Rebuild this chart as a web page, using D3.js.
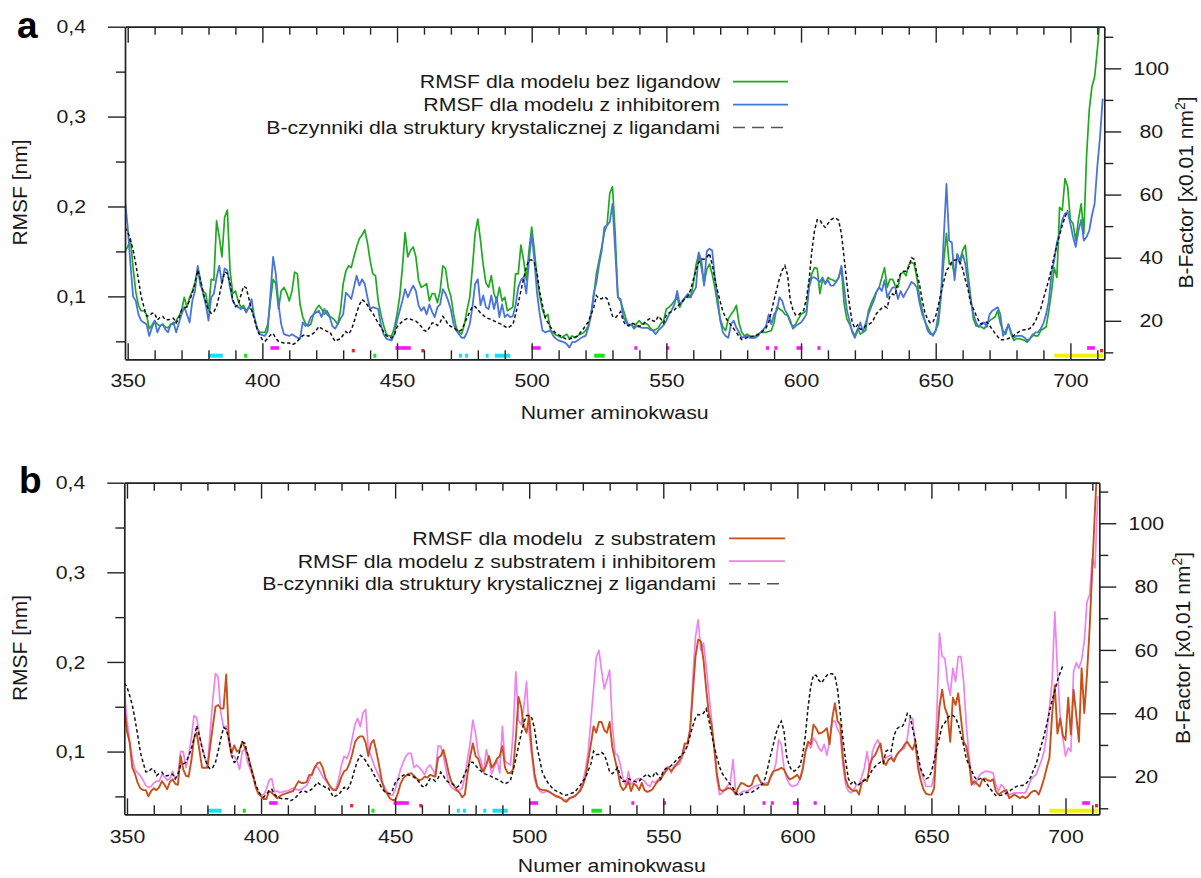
<!DOCTYPE html>
<html><head><meta charset="utf-8">
<script src="https://cdn.jsdelivr.net/npm/d3@7"></script>
<style>body{margin:0;background:#fff}svg{display:block}text{white-space:pre}</style>
</head><body>
<svg id="c" width="1201" height="878"></svg>
<script>
// ---------------- DATA ----------------
const xDomain = [349, 712.6];
const yDomain = [0.03, 0.4];
const xMajorTicks = [350,400,450,500,550,600,650,700];
const xMinorTicks = [360,370,380,390,410,420,430,440,460,470,480,490,510,520,530,540,560,570,580,590,610,620,630,640,660,670,680,690,710];
const yTicks = [0.1,0.2,0.3,0.4];
const yMinorTicks = [0.05,0.15,0.25,0.35];
const bTicks = [20,40,60,80,100];
const bMinorTicks = [10,30,50,70,90,110];

const legendTop = ["RMSF dla modelu bez ligandow","RMSF dla modelu z inhibitorem","B-czynniki dla struktury krystalicznej z ligandami"];
const legendBottom = ["RMSF dla modelu  z substratem","RMSF dla modelu z substratem i inhibitorem","B-czynniki dla struktury krystalicznej z ligandami"];

// RMSF [nm], model without ligands
const rmsfNoLigand = [[349,0.150],[350,0.155],[351,0.164],[352,0.132],[353,0.105],[354,0.090],[355,0.084],[356,0.084],[357,0.080],[358,0.064],[359,0.068],[360,0.073],[361,0.069],[362,0.067],[363,0.069],[364,0.066],[365,0.065],[366,0.069],[367,0.069],[368,0.073],[369,0.078],[370,0.084],[371,0.099],[372,0.088],[373,0.099],[374,0.106],[375,0.115],[376,0.132],[377,0.112],[378,0.106],[379,0.103],[380,0.084],[381,0.119],[382,0.118],[383,0.184],[384,0.166],[385,0.144],[386,0.188],[387,0.196],[388,0.129],[389,0.103],[390,0.106],[391,0.095],[392,0.088],[393,0.090],[394,0.084],[395,0.088],[396,0.085],[397,0.077],[398,0.065],[399,0.060],[400,0.060],[401,0.060],[402,0.069],[403,0.095],[404,0.119],[405,0.114],[406,0.086],[407,0.106],[408,0.110],[409,0.104],[410,0.095],[411,0.106],[412,0.127],[413,0.125],[414,0.091],[415,0.077],[416,0.070],[417,0.067],[418,0.069],[419,0.080],[420,0.086],[421,0.090],[422,0.086],[423,0.080],[424,0.084],[425,0.078],[426,0.076],[427,0.073],[428,0.069],[429,0.084],[430,0.114],[431,0.128],[432,0.134],[433,0.132],[434,0.144],[435,0.155],[436,0.164],[437,0.168],[438,0.174],[439,0.160],[440,0.140],[441,0.125],[442,0.123],[443,0.095],[444,0.080],[445,0.068],[446,0.058],[447,0.056],[448,0.056],[449,0.065],[450,0.080],[451,0.100],[452,0.132],[453,0.171],[454,0.144],[455,0.151],[456,0.155],[457,0.144],[458,0.118],[459,0.110],[460,0.112],[461,0.114],[462,0.095],[463,0.103],[464,0.103],[465,0.093],[466,0.106],[467,0.134],[468,0.131],[469,0.110],[470,0.100],[471,0.080],[472,0.065],[473,0.060],[474,0.058],[475,0.069],[476,0.085],[477,0.099],[478,0.132],[479,0.170],[480,0.186],[481,0.162],[482,0.135],[483,0.115],[484,0.110],[485,0.123],[486,0.103],[487,0.095],[488,0.110],[489,0.095],[490,0.099],[491,0.084],[492,0.086],[493,0.088],[494,0.125],[495,0.125],[496,0.157],[497,0.140],[498,0.118],[499,0.151],[500,0.177],[501,0.151],[502,0.121],[503,0.100],[504,0.085],[505,0.077],[506,0.080],[507,0.062],[508,0.060],[509,0.057],[510,0.056],[511,0.054],[512,0.056],[513,0.058],[514,0.053],[515,0.056],[516,0.054],[517,0.056],[518,0.058],[519,0.059],[520,0.062],[521,0.067],[522,0.080],[523,0.099],[524,0.125],[525,0.140],[526,0.155],[527,0.171],[528,0.180],[529,0.215],[530,0.222],[531,0.170],[532,0.099],[533,0.095],[534,0.085],[535,0.075],[536,0.067],[537,0.069],[538,0.065],[539,0.070],[540,0.073],[541,0.069],[542,0.070],[543,0.069],[544,0.065],[545,0.062],[546,0.063],[547,0.065],[548,0.070],[549,0.073],[550,0.086],[551,0.088],[552,0.091],[553,0.095],[554,0.099],[555,0.088],[556,0.095],[557,0.099],[558,0.099],[559,0.099],[560,0.114],[561,0.135],[562,0.147],[563,0.132],[564,0.114],[565,0.130],[566,0.136],[567,0.125],[568,0.110],[569,0.091],[570,0.075],[571,0.066],[572,0.062],[573,0.075],[574,0.080],[575,0.084],[576,0.090],[577,0.070],[578,0.060],[579,0.056],[580,0.058],[581,0.056],[582,0.054],[583,0.056],[584,0.058],[585,0.060],[586,0.060],[587,0.060],[588,0.061],[589,0.062],[590,0.071],[591,0.088],[592,0.086],[593,0.084],[594,0.080],[595,0.079],[596,0.071],[597,0.066],[598,0.069],[599,0.075],[600,0.080],[601,0.082],[602,0.084],[603,0.114],[604,0.125],[605,0.132],[606,0.131],[607,0.103],[608,0.119],[609,0.114],[610,0.121],[611,0.119],[612,0.118],[613,0.116],[614,0.121],[615,0.131],[616,0.092],[617,0.075],[618,0.069],[619,0.062],[620,0.056],[621,0.064],[622,0.058],[623,0.060],[624,0.062],[625,0.084],[626,0.092],[627,0.099],[628,0.105],[629,0.110],[630,0.121],[631,0.132],[632,0.110],[633,0.119],[634,0.119],[635,0.112],[636,0.110],[637,0.125],[638,0.127],[639,0.123],[640,0.135],[641,0.138],[642,0.136],[643,0.121],[644,0.099],[645,0.085],[646,0.072],[647,0.066],[648,0.060],[649,0.056],[650,0.062],[651,0.070],[652,0.100],[653,0.140],[654,0.170],[655,0.136],[656,0.138],[657,0.123],[658,0.147],[659,0.140],[660,0.151],[661,0.157],[662,0.125],[663,0.099],[664,0.075],[665,0.067],[666,0.067],[667,0.066],[668,0.064],[669,0.069],[670,0.073],[671,0.075],[672,0.077],[673,0.084],[674,0.070],[675,0.062],[676,0.058],[677,0.069],[678,0.058],[679,0.051],[680,0.053],[681,0.053],[682,0.052],[683,0.051],[684,0.049],[685,0.053],[686,0.058],[687,0.056],[688,0.056],[689,0.062],[690,0.064],[691,0.066],[692,0.084],[693,0.105],[694,0.132],[695,0.121],[696,0.199],[697,0.196],[698,0.231],[699,0.222],[700,0.185],[701,0.181],[702,0.162],[703,0.185],[704,0.203],[705,0.170],[706,0.255],[707,0.307],[708,0.333],[709,0.344],[710,0.374],[711,0.410],[712,0.440]];

// RMSF [nm], model with inhibitor
const rmsfInhibitor = [[349,0.207],[350,0.177],[351,0.137],[352,0.100],[353,0.095],[354,0.080],[355,0.073],[356,0.071],[357,0.069],[358,0.056],[359,0.065],[360,0.073],[361,0.060],[362,0.067],[363,0.069],[364,0.063],[365,0.060],[366,0.069],[367,0.071],[368,0.060],[369,0.070],[370,0.080],[371,0.088],[372,0.080],[373,0.071],[374,0.095],[375,0.106],[376,0.134],[377,0.118],[378,0.103],[379,0.091],[380,0.073],[381,0.099],[382,0.103],[383,0.121],[384,0.134],[385,0.114],[386,0.131],[387,0.129],[388,0.110],[389,0.095],[390,0.090],[391,0.088],[392,0.086],[393,0.088],[394,0.082],[395,0.088],[396,0.097],[397,0.077],[398,0.065],[399,0.058],[400,0.057],[401,0.056],[402,0.062],[403,0.103],[404,0.144],[405,0.125],[406,0.091],[407,0.069],[408,0.058],[409,0.057],[410,0.056],[411,0.058],[412,0.056],[413,0.054],[414,0.053],[415,0.071],[416,0.067],[417,0.069],[418,0.077],[419,0.080],[420,0.082],[421,0.084],[422,0.077],[423,0.086],[424,0.080],[425,0.077],[426,0.067],[427,0.064],[428,0.069],[429,0.075],[430,0.080],[431,0.104],[432,0.101],[433,0.097],[434,0.110],[435,0.123],[436,0.112],[437,0.119],[438,0.114],[439,0.099],[440,0.086],[441,0.088],[442,0.087],[443,0.086],[444,0.069],[445,0.058],[446,0.053],[447,0.052],[448,0.051],[449,0.058],[450,0.073],[451,0.084],[452,0.095],[453,0.108],[454,0.099],[455,0.106],[456,0.112],[457,0.106],[458,0.090],[459,0.084],[460,0.088],[461,0.080],[462,0.091],[463,0.083],[464,0.077],[465,0.088],[466,0.091],[467,0.108],[468,0.103],[469,0.095],[470,0.085],[471,0.069],[472,0.062],[473,0.058],[474,0.054],[475,0.054],[476,0.060],[477,0.069],[478,0.088],[479,0.114],[480,0.119],[481,0.090],[482,0.101],[483,0.088],[484,0.086],[485,0.101],[486,0.086],[487,0.099],[488,0.077],[489,0.091],[490,0.077],[491,0.080],[492,0.077],[493,0.078],[494,0.090],[495,0.110],[496,0.118],[497,0.121],[498,0.103],[499,0.140],[500,0.170],[501,0.140],[502,0.103],[503,0.080],[504,0.062],[505,0.060],[506,0.061],[507,0.062],[508,0.056],[509,0.053],[510,0.051],[511,0.050],[512,0.049],[513,0.047],[514,0.043],[515,0.049],[516,0.049],[517,0.051],[518,0.053],[519,0.055],[520,0.056],[521,0.065],[522,0.078],[523,0.103],[524,0.115],[525,0.135],[526,0.151],[527,0.177],[528,0.179],[529,0.183],[530,0.203],[531,0.151],[532,0.099],[533,0.097],[534,0.077],[535,0.072],[536,0.067],[537,0.069],[538,0.064],[539,0.067],[540,0.066],[541,0.065],[542,0.065],[543,0.065],[544,0.063],[545,0.062],[546,0.058],[547,0.062],[548,0.065],[549,0.068],[550,0.073],[551,0.080],[552,0.085],[553,0.091],[554,0.106],[555,0.091],[556,0.095],[557,0.099],[558,0.103],[559,0.099],[560,0.105],[561,0.110],[562,0.149],[563,0.140],[564,0.112],[565,0.150],[566,0.153],[567,0.151],[568,0.121],[569,0.099],[570,0.073],[571,0.060],[572,0.056],[573,0.054],[574,0.069],[575,0.073],[576,0.065],[577,0.060],[578,0.054],[579,0.055],[580,0.056],[581,0.054],[582,0.054],[583,0.054],[584,0.056],[585,0.060],[586,0.063],[587,0.067],[588,0.080],[589,0.069],[590,0.080],[591,0.084],[592,0.099],[593,0.095],[594,0.085],[595,0.080],[596,0.073],[597,0.064],[598,0.067],[599,0.069],[600,0.071],[601,0.075],[602,0.080],[603,0.110],[604,0.121],[605,0.121],[606,0.119],[607,0.116],[608,0.121],[609,0.114],[610,0.118],[611,0.112],[612,0.112],[613,0.116],[614,0.121],[615,0.134],[616,0.110],[617,0.085],[618,0.073],[619,0.060],[620,0.054],[621,0.062],[622,0.071],[623,0.060],[624,0.070],[625,0.080],[626,0.088],[627,0.095],[628,0.105],[629,0.110],[630,0.106],[631,0.118],[632,0.099],[633,0.105],[634,0.110],[635,0.110],[636,0.097],[637,0.106],[638,0.099],[639,0.105],[640,0.110],[641,0.116],[642,0.114],[643,0.110],[644,0.093],[645,0.080],[646,0.073],[647,0.062],[648,0.058],[649,0.058],[650,0.062],[651,0.080],[652,0.103],[653,0.166],[654,0.225],[655,0.162],[656,0.160],[657,0.118],[658,0.147],[659,0.136],[660,0.147],[661,0.136],[662,0.115],[663,0.095],[664,0.080],[665,0.071],[666,0.066],[667,0.070],[668,0.071],[669,0.066],[670,0.080],[671,0.084],[672,0.086],[673,0.088],[674,0.080],[675,0.056],[676,0.062],[677,0.069],[678,0.060],[679,0.054],[680,0.056],[681,0.056],[682,0.056],[683,0.054],[684,0.051],[685,0.053],[686,0.056],[687,0.060],[688,0.060],[689,0.064],[690,0.070],[691,0.080],[692,0.095],[693,0.125],[694,0.140],[695,0.160],[696,0.170],[697,0.185],[698,0.192],[699,0.194],[700,0.181],[701,0.166],[702,0.155],[703,0.173],[704,0.185],[705,0.162],[706,0.166],[707,0.173],[708,0.190],[709,0.203],[710,0.244],[711,0.277],[712,0.320]];

// RMSF [nm], model with substrate
const rmsfSubstrate = [[349,0.150],[350,0.123],[351,0.110],[352,0.082],[353,0.075],[354,0.065],[355,0.059],[356,0.057],[357,0.057],[358,0.050],[359,0.056],[360,0.059],[361,0.057],[362,0.060],[363,0.067],[364,0.063],[365,0.058],[366,0.066],[367,0.069],[368,0.064],[369,0.063],[370,0.095],[371,0.080],[372,0.073],[373,0.072],[374,0.090],[375,0.115],[376,0.121],[377,0.102],[378,0.082],[379,0.082],[380,0.082],[381,0.105],[382,0.128],[383,0.150],[384,0.152],[385,0.148],[386,0.148],[387,0.186],[388,0.115],[389,0.098],[390,0.107],[391,0.100],[392,0.102],[393,0.111],[394,0.104],[395,0.097],[396,0.085],[397,0.074],[398,0.060],[399,0.053],[400,0.050],[401,0.047],[402,0.047],[403,0.056],[404,0.054],[405,0.051],[406,0.048],[407,0.050],[408,0.052],[409,0.053],[410,0.054],[411,0.055],[412,0.056],[413,0.062],[414,0.067],[415,0.065],[416,0.065],[417,0.066],[418,0.074],[419,0.074],[420,0.082],[421,0.087],[422,0.088],[423,0.082],[424,0.071],[425,0.065],[426,0.060],[427,0.057],[428,0.057],[429,0.063],[430,0.072],[431,0.078],[432,0.080],[433,0.087],[434,0.097],[435,0.110],[436,0.115],[437,0.117],[438,0.117],[439,0.110],[440,0.095],[441,0.109],[442,0.113],[443,0.100],[444,0.085],[445,0.068],[446,0.057],[447,0.053],[448,0.048],[449,0.046],[450,0.046],[451,0.053],[452,0.064],[453,0.070],[454,0.073],[455,0.075],[456,0.076],[457,0.073],[458,0.070],[459,0.068],[460,0.069],[461,0.072],[462,0.071],[463,0.074],[464,0.073],[465,0.072],[466,0.093],[467,0.095],[468,0.102],[469,0.090],[470,0.076],[471,0.066],[472,0.062],[473,0.057],[474,0.054],[475,0.049],[476,0.052],[477,0.075],[478,0.095],[479,0.109],[480,0.095],[481,0.092],[482,0.082],[483,0.078],[484,0.085],[485,0.095],[486,0.082],[487,0.086],[488,0.092],[489,0.095],[490,0.106],[491,0.082],[492,0.076],[493,0.076],[494,0.080],[495,0.115],[496,0.161],[497,0.150],[498,0.128],[499,0.121],[500,0.140],[501,0.100],[502,0.075],[503,0.061],[504,0.058],[505,0.057],[506,0.057],[507,0.056],[508,0.054],[509,0.052],[510,0.050],[511,0.049],[512,0.048],[513,0.045],[514,0.044],[515,0.048],[516,0.049],[517,0.050],[518,0.053],[519,0.056],[520,0.062],[521,0.072],[522,0.090],[523,0.108],[524,0.128],[525,0.121],[526,0.133],[527,0.133],[528,0.124],[529,0.121],[530,0.133],[531,0.105],[532,0.091],[533,0.078],[534,0.062],[535,0.057],[536,0.060],[537,0.067],[538,0.056],[539,0.064],[540,0.062],[541,0.057],[542,0.065],[543,0.057],[544,0.055],[545,0.056],[546,0.058],[547,0.063],[548,0.067],[549,0.069],[550,0.074],[551,0.078],[552,0.082],[553,0.078],[554,0.082],[555,0.086],[556,0.090],[557,0.096],[558,0.109],[559,0.109],[560,0.125],[561,0.165],[562,0.206],[563,0.225],[564,0.223],[565,0.202],[566,0.170],[567,0.142],[568,0.130],[569,0.105],[570,0.075],[571,0.058],[572,0.056],[573,0.057],[574,0.059],[575,0.059],[576,0.057],[577,0.052],[578,0.060],[579,0.065],[580,0.064],[581,0.062],[582,0.061],[583,0.063],[584,0.072],[585,0.074],[586,0.068],[587,0.063],[588,0.063],[589,0.063],[590,0.072],[591,0.078],[592,0.079],[593,0.080],[594,0.082],[595,0.080],[596,0.074],[597,0.069],[598,0.070],[599,0.072],[600,0.074],[601,0.069],[602,0.080],[603,0.100],[604,0.111],[605,0.108],[606,0.130],[607,0.126],[608,0.120],[609,0.121],[610,0.123],[611,0.126],[612,0.108],[613,0.137],[614,0.154],[615,0.134],[616,0.130],[617,0.093],[618,0.069],[619,0.061],[620,0.058],[621,0.056],[622,0.057],[623,0.052],[624,0.065],[625,0.069],[626,0.067],[627,0.085],[628,0.093],[629,0.096],[630,0.103],[631,0.109],[632,0.089],[633,0.085],[634,0.091],[635,0.093],[636,0.089],[637,0.096],[638,0.100],[639,0.103],[640,0.108],[641,0.111],[642,0.106],[643,0.102],[644,0.111],[645,0.082],[646,0.068],[647,0.058],[648,0.053],[649,0.052],[650,0.052],[651,0.059],[652,0.111],[653,0.150],[654,0.169],[655,0.149],[656,0.141],[657,0.111],[658,0.160],[659,0.152],[660,0.165],[661,0.137],[662,0.111],[663,0.106],[664,0.089],[665,0.063],[666,0.067],[667,0.064],[668,0.061],[669,0.069],[670,0.070],[671,0.068],[672,0.067],[673,0.069],[674,0.056],[675,0.052],[676,0.054],[677,0.056],[678,0.057],[679,0.048],[680,0.050],[681,0.052],[682,0.050],[683,0.048],[684,0.050],[685,0.048],[686,0.050],[687,0.054],[688,0.056],[689,0.056],[690,0.052],[691,0.060],[692,0.070],[693,0.082],[694,0.093],[695,0.141],[696,0.174],[697,0.120],[698,0.137],[699,0.118],[700,0.113],[701,0.160],[702,0.119],[703,0.169],[704,0.141],[705,0.111],[706,0.193],[707,0.143],[708,0.186],[709,0.238],[710,0.305],[711,0.371],[712,0.430]];

// RMSF [nm], model with substrate and inhibitor
const rmsfSubstrateInhibitor = [[349,0.169],[350,0.135],[351,0.112],[352,0.092],[353,0.080],[354,0.076],[355,0.073],[356,0.068],[357,0.062],[358,0.060],[359,0.061],[360,0.065],[361,0.067],[362,0.067],[363,0.074],[364,0.072],[365,0.068],[366,0.070],[367,0.078],[368,0.069],[369,0.074],[370,0.100],[371,0.100],[372,0.082],[373,0.095],[374,0.115],[375,0.140],[376,0.138],[377,0.118],[378,0.106],[379,0.094],[380,0.083],[381,0.121],[382,0.158],[383,0.187],[384,0.183],[385,0.143],[386,0.128],[387,0.128],[388,0.110],[389,0.095],[390,0.095],[391,0.090],[392,0.080],[393,0.100],[394,0.103],[395,0.088],[396,0.080],[397,0.071],[398,0.062],[399,0.054],[400,0.051],[401,0.052],[402,0.058],[403,0.068],[404,0.070],[405,0.055],[406,0.056],[407,0.054],[408,0.055],[409,0.056],[410,0.056],[411,0.058],[412,0.059],[413,0.058],[414,0.057],[415,0.058],[416,0.060],[417,0.062],[418,0.068],[419,0.076],[420,0.083],[421,0.083],[422,0.078],[423,0.072],[424,0.068],[425,0.064],[426,0.060],[427,0.057],[428,0.059],[429,0.070],[430,0.085],[431,0.095],[432,0.092],[433,0.100],[434,0.115],[435,0.130],[436,0.137],[437,0.128],[438,0.143],[439,0.147],[440,0.102],[441,0.095],[442,0.086],[443,0.079],[444,0.072],[445,0.066],[446,0.061],[447,0.055],[448,0.052],[449,0.051],[450,0.057],[451,0.069],[452,0.080],[453,0.088],[454,0.095],[455,0.098],[456,0.098],[457,0.082],[458,0.085],[459,0.082],[460,0.079],[461,0.074],[462,0.082],[463,0.085],[464,0.080],[465,0.074],[466,0.106],[467,0.106],[468,0.095],[469,0.080],[470,0.065],[471,0.060],[472,0.058],[473,0.056],[474,0.057],[475,0.059],[476,0.072],[477,0.092],[478,0.110],[479,0.135],[480,0.120],[481,0.097],[482,0.090],[483,0.076],[484,0.102],[485,0.090],[486,0.075],[487,0.083],[488,0.090],[489,0.076],[490,0.128],[491,0.089],[492,0.087],[493,0.085],[494,0.120],[495,0.189],[496,0.135],[497,0.130],[498,0.150],[499,0.178],[500,0.120],[501,0.095],[502,0.069],[503,0.060],[504,0.056],[505,0.054],[506,0.055],[507,0.056],[508,0.054],[509,0.052],[510,0.051],[511,0.050],[512,0.048],[513,0.046],[514,0.046],[515,0.047],[516,0.049],[517,0.051],[518,0.053],[519,0.058],[520,0.066],[521,0.080],[522,0.100],[523,0.135],[524,0.170],[525,0.205],[526,0.213],[527,0.190],[528,0.170],[529,0.180],[530,0.191],[531,0.130],[532,0.098],[533,0.096],[534,0.085],[535,0.070],[536,0.062],[537,0.078],[538,0.063],[539,0.066],[540,0.069],[541,0.070],[542,0.069],[543,0.067],[544,0.063],[545,0.061],[546,0.067],[547,0.065],[548,0.069],[549,0.070],[550,0.076],[551,0.082],[552,0.083],[553,0.076],[554,0.085],[555,0.085],[556,0.086],[557,0.093],[558,0.104],[559,0.106],[560,0.120],[561,0.180],[562,0.228],[563,0.247],[564,0.213],[565,0.221],[566,0.195],[567,0.165],[568,0.135],[569,0.102],[570,0.069],[571,0.052],[572,0.054],[573,0.058],[574,0.062],[575,0.065],[576,0.091],[577,0.054],[578,0.052],[579,0.054],[580,0.056],[581,0.056],[582,0.057],[583,0.059],[584,0.061],[585,0.062],[586,0.063],[587,0.064],[588,0.065],[589,0.065],[590,0.070],[591,0.076],[592,0.087],[593,0.113],[594,0.108],[595,0.082],[596,0.070],[597,0.064],[598,0.061],[599,0.062],[600,0.063],[601,0.070],[602,0.082],[603,0.100],[604,0.108],[605,0.104],[606,0.115],[607,0.111],[608,0.104],[609,0.100],[610,0.108],[611,0.096],[612,0.111],[613,0.134],[614,0.134],[615,0.125],[616,0.119],[617,0.085],[618,0.063],[619,0.056],[620,0.054],[621,0.057],[622,0.063],[623,0.063],[624,0.072],[625,0.082],[626,0.100],[627,0.078],[628,0.100],[629,0.108],[630,0.113],[631,0.106],[632,0.089],[633,0.093],[634,0.095],[635,0.096],[636,0.089],[637,0.096],[638,0.100],[639,0.102],[640,0.104],[641,0.115],[642,0.137],[643,0.137],[644,0.104],[645,0.090],[646,0.078],[647,0.070],[648,0.061],[649,0.061],[650,0.061],[651,0.074],[652,0.141],[653,0.232],[654,0.206],[655,0.204],[656,0.178],[657,0.163],[658,0.193],[659,0.178],[660,0.206],[661,0.206],[662,0.178],[663,0.130],[664,0.096],[665,0.070],[666,0.063],[667,0.068],[668,0.074],[669,0.076],[670,0.078],[671,0.078],[672,0.077],[673,0.076],[674,0.063],[675,0.056],[676,0.063],[677,0.060],[678,0.052],[679,0.052],[680,0.053],[681,0.054],[682,0.054],[683,0.054],[684,0.054],[685,0.054],[686,0.060],[687,0.068],[688,0.072],[689,0.074],[690,0.082],[691,0.090],[692,0.100],[693,0.120],[694,0.149],[695,0.178],[696,0.256],[697,0.190],[698,0.140],[699,0.115],[700,0.095],[701,0.104],[702,0.100],[703,0.189],[704,0.199],[705,0.193],[706,0.202],[707,0.223],[708,0.267],[709,0.275],[710,0.316],[711,0.305],[712,0.385]];

// B-factor [x0.01 nm^2], crystal structure with ligands (same in both panels)
const bFactor = [[349,49.5],[350,48.3],[351,45.6],[352,42.5],[353,38],[354,33],[355,27.7],[356,24.5],[357,21.5],[358,21.5],[359,22.4],[360,22.4],[361,20.3],[362,21],[363,21.4],[364,20.3],[365,20.3],[366,20.5],[367,20.8],[368,19.3],[369,20.8],[370,23.5],[371,24],[372,24.5],[373,26.5],[374,28.8],[375,31.9],[376,36.1],[377,33],[378,29],[379,26],[380,23.5],[381,22.4],[382,22.9],[383,24.5],[384,28],[385,32],[386,35.5],[387,35],[388,31.9],[389,26.7],[390,24.5],[391,25],[392,28],[393,30.9],[394,30.5],[395,27],[396,23.5],[397,20.5],[398,17.5],[399,15.5],[400,14],[401,13.5],[402,14.5],[403,15.5],[404,16],[405,14.5],[406,13.5],[407,13.2],[408,13],[409,13],[410,13],[411,12.4],[412,12.8],[413,13.5],[414,14.5],[415,15.3],[416,15.6],[417,15.1],[418,15.5],[419,16.1],[420,17],[421,18.2],[422,17.5],[423,17.2],[424,16.6],[425,16.6],[426,15],[427,13.5],[428,14],[429,14.3],[430,15.5],[431,16.6],[432,15.8],[433,17],[434,19.5],[435,22.5],[436,25],[437,26.7],[438,26.1],[439,25],[440,23.5],[441,22.5],[442,20.8],[443,19.3],[444,18],[445,16.5],[446,15.3],[447,14.8],[448,14.6],[449,15.6],[450,18],[451,19],[452,19.8],[453,20.4],[454,20.8],[455,20.5],[456,20.2],[457,19.9],[458,19.2],[459,18.2],[460,17],[461,16.6],[462,17.8],[463,19.3],[464,19.3],[465,18.5],[466,19.5],[467,21.4],[468,20.3],[469,18.8],[470,18.2],[471,17.9],[472,17.2],[473,16.6],[474,17.2],[475,19],[476,21],[477,22.8],[478,24.5],[479,24.5],[480,23.5],[481,22.5],[482,21.8],[483,21],[484,20.7],[485,20.4],[486,20],[487,19.5],[488,19.2],[489,18.8],[490,18.2],[491,17.7],[492,18.2],[493,18.8],[494,22],[495,25.5],[496,29.5],[497,33.5],[498,37],[499,39.3],[500,39.3],[501,38.5],[502,35],[503,29],[504,25],[505,21],[506,19.5],[507,18],[508,17],[509,16],[510,15.5],[511,15.2],[512,14.6],[513,14.1],[514,14.2],[515,14.5],[516,14.8],[517,15.1],[518,16.2],[519,17.2],[520,18.5],[521,19.6],[522,21.9],[523,24],[524,28],[525,27],[526,27],[527,27.6],[528,27],[529,24.5],[530,21.5],[531,20.9],[532,21.8],[533,22.9],[534,20],[535,18.5],[536,18.6],[537,19.3],[538,19],[539,18.6],[540,18.3],[541,18.6],[542,19.5],[543,20.2],[544,20.8],[545,20],[546,19.8],[547,21.5],[548,20.5],[549,19.3],[550,21.8],[551,22.5],[552,22.9],[553,23.5],[554,24.4],[555,25.3],[556,26.1],[557,27],[558,27.8],[559,29.8],[560,33],[561,36],[562,38.5],[563,39.6],[564,39.5],[565,40],[566,41.4],[567,37.8],[568,33.5],[569,29.5],[570,26],[571,23],[572,21],[573,19.7],[574,18.6],[575,17.5],[576,16.4],[577,15],[578,14],[579,14.3],[580,14.7],[581,15],[582,15.1],[583,15.1],[584,15.6],[585,16.1],[586,16.9],[587,17.7],[588,19.5],[589,23],[590,26.7],[591,30],[592,33.5],[593,36],[594,37.5],[595,34.5],[596,26.5],[597,23.5],[598,21.8],[599,21.8],[600,22.6],[601,23.4],[602,27],[603,33],[604,42],[605,48.5],[606,52],[607,52],[608,50.4],[609,49.6],[610,50.8],[611,52],[612,52.5],[613,52.5],[614,51.8],[615,47.5],[616,40],[617,32],[618,25],[619,19.5],[620,17.7],[621,18.7],[622,17.3],[623,17.5],[624,18.4],[625,18.8],[626,19.3],[627,20.5],[628,22.3],[629,23.2],[630,24],[631,24.6],[632,24.1],[633,28],[634,28.5],[635,28],[636,32.8],[637,35],[638,35.7],[639,35.7],[640,37],[641,40],[642,39.5],[643,35],[644,31.5],[645,26.5],[646,22.5],[647,20.5],[648,19.3],[649,19.7],[650,21.5],[651,25],[652,29],[653,32.5],[654,36],[655,37],[656,38.5],[657,39.3],[658,39.3],[659,38.6],[660,36.5],[661,33],[662,30],[663,25.6],[664,23.8],[665,21.8],[666,20],[667,18.9],[668,19.3],[669,19.6],[670,18.5],[671,17.3],[672,16.1],[673,15],[674,14],[675,14],[676,14.1],[677,14.4],[678,14.8],[679,15.3],[680,16],[681,16.6],[682,17],[683,17.2],[684,17.2],[685,17.6],[686,18.5],[687,19.8],[688,22],[689,23.8],[690,27],[691,30],[692,33],[693,36.5],[694,40.5],[695,44],[696,47.2],[697,50.3],[698,52.8],[699,55]];

// structural annotation marks: [type, first residue, last residue]
const markers = [["cyan",380,385.3],["green",393.2,394.3],["magenta",403,406.2],["red",433.2,434.2],["green",441.2,442.3],["magenta",449.4,455.1],["red",459,460],["cyan",473,474],["cyan",475.3,476.3],["cyan",482.9,483.9],["cyan",486.3,492],["magenta",499.9,503.3],["green",523.2,527.1],["magenta",538.1,539.1],["magenta",549.9,550.9],["magenta",587,588],["magenta",590.1,591.1],["magenta",598.3,600.5],["magenta",606.1,607.1],["yellow",694,712.2],["magenta",706.2,709.1],["red",711,712]];

// ---------------- STYLE / LAYOUT ----------------
const FONT = "'Liberation Sans', Arial, Helvetica, sans-serif";
const SX = 1.12;           // horizontal stretch of the reference's lettering
const AX = "#222";
const TXT = "#1a1a1a";
const markerColor = {cyan:"#10e4f4", green:"#16e616", magenta:"#ff14ff", red:"#ff2020", yellow:"#f2f200"};
const markerLevel = {cyan:0.034, green:0.034, yellow:0.034, magenta:0.0426, red:0.0396};
const markerH = {cyan:4, green:4, yellow:4, magenta:3.6, red:3.4};

const svg = d3.select("#c");
svg.append("rect").attr("width",1201).attr("height",878).attr("fill","#fff");

function stretch(sel){
  sel.each(function(){
    const t = d3.select(this);
    const x = +t.attr("x") || 0, y = +t.attr("y") || 0;
    t.attr("x", null).attr("y", null).attr("transform", `translate(${x},${y}) scale(${SX},1)`);
  });
}
const commaFmt = v => d3.format(".1f")(v).replace(".", ",");

function drawPanel(p){
  const x = d3.scaleLinear().domain(xDomain).range([p.left, p.right]);
  const y = d3.scaleLinear().domain(yDomain).range([p.bottom, p.top]);
  const b = d3.scaleLinear().domain(p.bDomain).range([p.bottom, p.top]);
  const g = svg.append("g");

  g.append("clipPath").attr("id","clip"+p.id).append("rect")
    .attr("x",p.left).attr("y",p.top).attr("width",p.right-p.left).attr("height",p.bottom-p.top);
  const plot = g.append("g").attr("clip-path",`url(#clip${p.id})`);

  plot.selectAll("rect.mk").data(markers).join("rect").attr("class","mk")
    .attr("x", d => x(d[1]))
    .attr("width", d => Math.max(x(d[2]) - x(d[1]), 3))
    .attr("y", d => y(markerLevel[d[0]]) - markerH[d[0]]/2)
    .attr("height", d => markerH[d[0]])
    .attr("fill", d => markerColor[d[0]]);

  const line = d3.line().x(d => x(d[0])).y(d => y(d[1]));
  const lineB = d3.line().x(d => x(d[0])).y(d => b(d[1]));
  p.series.forEach(s => {
    plot.append("path").datum(s.data).attr("d", line).attr("fill","none")
      .attr("stroke", s.color).attr("stroke-width", s.width).attr("stroke-linejoin","round");
  });
  plot.append("path").datum(bFactor).attr("d", lineB).attr("fill","none")
    .attr("stroke","#111").attr("stroke-width",1.5).attr("stroke-dasharray","3.5,2.5");

  const styleAxis = (sel, keepDomain) => {
    sel.attr("font-family", FONT).attr("font-size", 19).attr("color", AX);
    if (keepDomain) sel.select(".domain").attr("stroke", AX).attr("stroke-width", 1.7);
    else sel.select(".domain").remove();
    sel.selectAll(".tick line").attr("stroke", AX).attr("stroke-width", 1.4);
    sel.selectAll(".tick text").attr("fill", TXT);
  };
  const none = () => "";

  // left axis
  g.append("g").attr("transform",`translate(${p.left},0)`)
    .call(d3.axisLeft(y).tickValues(yMinorTicks).tickSizeInner(9).tickSizeOuter(0).tickFormat(none))
    .call(s => styleAxis(s,false));
  const la = g.append("g").attr("transform",`translate(${p.left},0)`)
    .call(d3.axisLeft(y).tickValues(yTicks).tickSizeInner(17).tickSizeOuter(0).tickPadding(22).tickFormat(commaFmt))
    .call(s => styleAxis(s,true));
  stretch(la.selectAll(".tick text"));

  // top edge (ticks inward)
  g.append("g").attr("transform",`translate(0,${p.top})`)
    .call(d3.axisBottom(x).tickValues(xMinorTicks).tickSizeInner(8).tickSizeOuter(0).tickFormat(none))
    .call(s => styleAxis(s,false));
  g.append("g").attr("transform",`translate(0,${p.top})`)
    .call(d3.axisBottom(x).tickValues(xMajorTicks).tickSizeInner(16).tickSizeOuter(0).tickFormat(none))
    .call(s => styleAxis(s,true));

  // bottom axis (ticks inward, labels below)
  g.append("g").attr("transform",`translate(0,${p.bottom})`)
    .call(d3.axisBottom(x).tickValues(xMinorTicks).tickSizeInner(-9).tickSizeOuter(0).tickFormat(none))
    .call(s => styleAxis(s,false));
  const ba = g.append("g").attr("transform",`translate(0,${p.bottom})`)
    .call(d3.axisBottom(x).tickValues(xMajorTicks).tickSizeInner(-16).tickSizeOuter(0).tickPadding(p.xPad).tickFormat(d3.format("d")))
    .call(s => styleAxis(s,true));
  stretch(ba.selectAll(".tick text"));

  // right axis (B-factor)
  g.append("g").attr("transform",`translate(${p.right},0)`)
    .call(d3.axisRight(b).tickValues(bMinorTicks).tickSizeInner(9).tickSizeOuter(0).tickFormat(none))
    .call(s => styleAxis(s,false));
  const ra = g.append("g").attr("transform",`translate(${p.right},0)`)
    .call(d3.axisRight(b).tickValues(bTicks).tickSizeInner(17).tickSizeOuter(0).tickFormat(d3.format("d")))
    .call(s => styleAxis(s,true));
  ra.selectAll(".tick text").attr("x", 47).attr("text-anchor","middle");
  stretch(ra.selectAll(".tick text"));

  // panel letter
  g.append("text").attr("x", p.letterX).attr("y", p.letterY).text(p.letter)
    .attr("font-family", FONT).attr("font-weight","bold").attr("font-size", 37).attr("fill","#000");

  // axis titles
  const xt = g.append("text").attr("x",(p.left+p.right)/2).attr("y",p.xTitleY).text("Numer aminokwasu")
    .attr("font-family",FONT).attr("font-size",19).attr("text-anchor","middle").attr("fill",TXT);
  stretch(xt);
  const midY = (p.top+p.bottom)/2 - 0.5;
  g.append("text").attr("transform",`translate(27,${midY}) rotate(-90)`).text("RMSF [nm]")
    .attr("font-family",FONT).attr("font-size",21).attr("text-anchor","middle").attr("fill",TXT);
  const bt = g.append("text").attr("transform",`translate(${p.bTitleX},${midY}) rotate(-90)`)
    .attr("font-family",FONT).attr("font-size",21).attr("text-anchor","middle").attr("fill",TXT);
  bt.append("tspan").text(`B-Factor [x0${p.dec}01 nm`);
  bt.append("tspan").attr("dy",-8).attr("font-size",14).text("2");
  bt.append("tspan").attr("dy",8).text("]");

  // legend
  const lg = g.append("g");
  p.legend.forEach((t,i) => {
    const base = p.legendY + i*p.legendStep;
    const tx = lg.append("text").attr("x",p.legendTextX).attr("y",base).text(t)
      .attr("font-family",FONT).attr("font-size",19).attr("text-anchor","end").attr("fill",TXT);
    stretch(tx);
    const st = p.legendStyles[i];
    lg.append("line").attr("x1",p.legendTextX+13).attr("x2",p.legendTextX+st.len)
      .attr("y1",base-6.6).attr("y2",base-6.6)
      .attr("stroke",st.color).attr("stroke-width",st.width)
      .attr("stroke-dasharray",st.dash || null);
  });
}

drawPanel({
  id:"a", letter:"a", letterX:17, letterY:38,
  left:125, right:1104.3, top:26.7, bottom:359.3, bDomain:[7.8,113.2],
  xPad:14, xTitleY:419, bTitleX:1193, dec:".",
  series:[{data:rmsfNoLigand,color:"#1eaa1e",width:1.7},{data:rmsfInhibitor,color:"#4a73dc",width:1.8}],
  legend:legendTop, legendTextX:720, legendY:88.3, legendStep:22.9,
  legendStyles:[{color:"#1eaa1e",width:1.7,len:68},{color:"#4a73dc",width:1.8,len:68},{color:"#555",width:1.4,len:65,dash:"12,7"}]
});
drawPanel({
  id:"b", letter:"b", letterX:19, letterY:493,
  left:124.3, right:1099.3, top:482.7, bottom:814.3, bDomain:[8.1,112.8],
  xPad:15.5, xTitleY:872, bTitleX:1190, dec:",",
  series:[{data:rmsfSubstrateInhibitor,color:"#ee82ee",width:1.7},{data:rmsfSubstrate,color:"#c8501a",width:1.9}],
  legend:legendBottom, legendTextX:716, legendY:545, legendStep:22.7,
  legendStyles:[{color:"#c8501a",width:1.9,len:69},{color:"#ee82ee",width:1.7,len:69},{color:"#555",width:1.4,len:66,dash:"12,7"}]
});
</script>
</body></html>
